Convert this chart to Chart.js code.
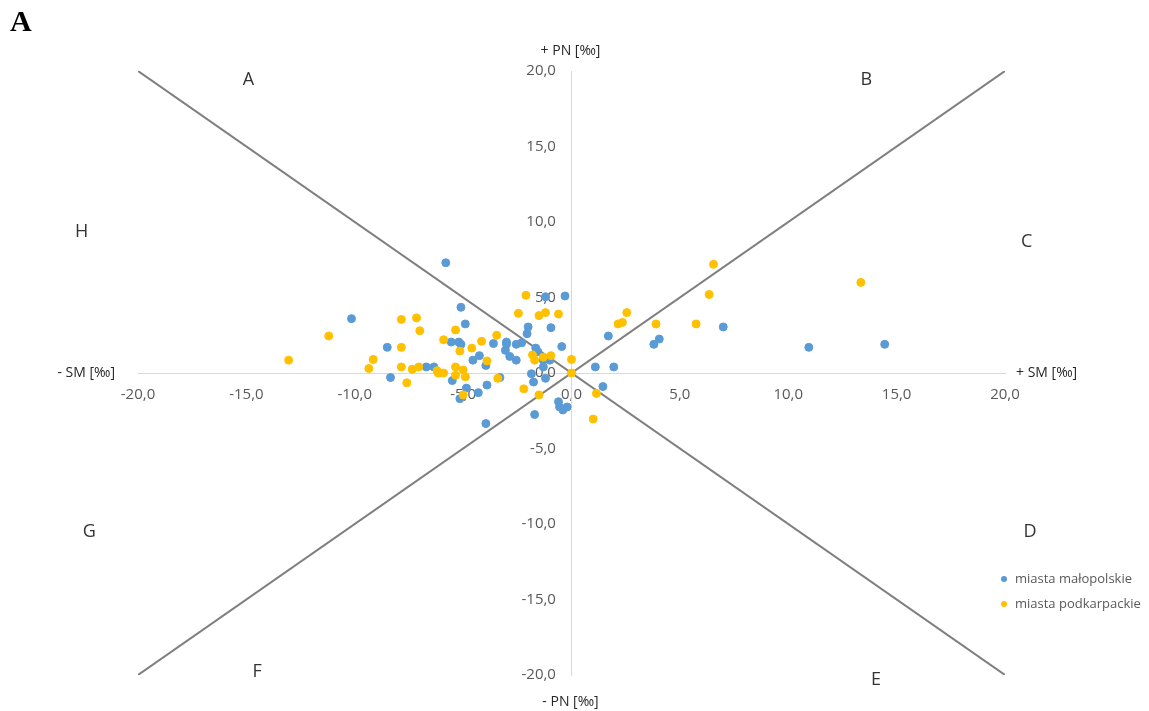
<!DOCTYPE html>
<html lang="pl">
<head>
    <meta charset="UTF-8">
    <title>Saldo migracji i przyrost naturalny – miasta</title>
    <script src="https://cdn.jsdelivr.net/npm/chart.js"></script>
    <style>
        body {
            margin: 0;
            background: #ffffff;
        }
        #chartBox {
            width: 1149px;
            height: 711px;
        }
    </style>
</head>
<body>
<div id="chartBox">
    <canvas id="webbChart"></canvas>
</div>

<script>
    // SM = saldo migracji [‰] (x), PN = przyrost naturalny [‰] (y)
    const malopolskieSM = [-5.8, -0.3, -1.2, -5.1, -10.15, -4.9, -2.0, -0.95, -2.05, -8.5, -5.55, -5.2, -5.1, -3.6, -3.0,
        -3.0, -3.05, -2.55, -2.3, -1.65, -1.55, -0.45, -4.55, -4.25, -3.95, -2.85, -2.55, -1.3, -1.3, -1.0, -6.7, -6.35,
        -8.35, -1.85, -1.75, -1.2, -5.5, -3.3, -4.85, -4.3, -5.15, -3.9, -3.95, -1.7, -0.6, -0.55, -0.4, -0.2,
        1.7, 1.95, 1.1, 1.45, 3.8, 4.05, 7.0, 10.95, 14.45];
    const malopolskiePN = [7.3, 5.1, 5.05, 4.35, 3.6, 3.25, 3.05, 3.0, 2.6, 1.7, 2.05, 2.05, 1.9, 1.95, 2.05,
        1.9, 1.5, 1.9, 2.0, 1.65, 1.4, 1.75, 0.85, 1.15, 0.5, 1.1, 0.85, 0.85, 0.4, 0.85, 0.4, 0.4,
        -0.3, -0.05, -0.6, -0.35, -0.5, -0.3, -1.0, -1.3, -1.7, -0.8, -3.35, -2.75, -1.9, -2.25, -2.45, -2.25,
        2.45, 0.4, 0.4, -0.9, 1.9, 2.25, 3.05, 1.7, 1.9];

    const podkarpackieSM = [-13.05, -11.2, -7.85, -7.15, -7.0, -7.85, -9.15, -9.35, -7.85, -7.6, -7.35, -7.05, -6.2,
        -6.15, -5.9, -5.35, -5.9, -5.15, -5.35, -5.35, -5.0, -4.9, -5.0, -4.6, -4.15, -3.9, -3.45, -3.4, -2.45,
        -1.5, -1.2, -0.6, -2.1, -1.8, -1.7, -1.3, -0.95, 0.0, 0.0, -2.2, -1.5,
        6.55, 13.35, 6.35, 2.55, 2.15, 2.35, 3.9, 5.75, 1.15, 1.0];
    const podkarpackiePN = [0.85, 2.45, 3.55, 3.65, 2.8, 1.7, 0.9, 0.3, 0.4, -0.65, 0.25, 0.4, 0.15,
        0.0, 0.0, 2.85, 2.2, 1.45, 0.4, -0.15, 0.2, -0.25, -1.45, 1.65, 2.1, 0.8, 2.5, -0.35, 3.95,
        3.8, 4.0, 3.9, 5.15, 1.2, 0.85, 1.05, 1.15, 0.9, 0.0, -1.05, -1.45,
        7.2, 6.0, 5.2, 4.0, 3.25, 3.35, 3.25, 3.25, -1.35, -3.05];

    // boundaries of the typology sectors (diagonals through the origin)
    const diagonalA = [{x: -20, y: 20}, {x: 20, y: -20}];
    const diagonalB = [{x: -20, y: -20}, {x: 20, y: 20}];

    const sectorNames = ['A', 'B', 'C', 'D', 'E', 'F', 'G', 'H'];
    // anchors of the sector letters, in data units
    const sectorX = [-14.9, 13.6, 21.0, 21.15, 14.05, -14.5, -22.25, -22.6];
    const sectorY = [19.4, 19.4, 8.7, -10.55, -20.3, -19.8, -10.55, 9.35];

    const toPoints = (xs, ys) => xs.map((x, i) => ({x: x, y: ys[i]}));
    const fmt = v => v.toFixed(1).replace('.', ',');

    const blue = '#5b9bd5';
    const gold = '#ffc000';

    // letters, axis names, panel tag and legend
    const annotations = {
        id: 'annotations',
        afterDraw(chart) {
            const c = chart.ctx;
            const xs = chart.scales.x, ys = chart.scales.y;
            const area = chart.chartArea;
            c.save();

            c.fillStyle = '#000';
            c.font = 'bold 30px "Liberation Serif", serif';
            c.textAlign = 'left';
            c.textBaseline = 'alphabetic';
            c.fillText('A', 10, 31);

            c.fillStyle = '#333';
            c.font = '18px "Open Sans"';
            c.textAlign = 'center';
            c.textBaseline = 'middle';
            sectorNames.forEach((n, i) => {
                c.fillText(n, xs.getPixelForValue(sectorX[i]), ys.getPixelForValue(sectorY[i]));
            });

            c.font = '14px "Open Sans"';
            c.fillStyle = '#262626';
            const x0 = xs.getPixelForValue(0), y0 = ys.getPixelForValue(0);
            c.fillText('+ PN [‰]', x0 - 1, area.top - 20);
            c.fillText('- PN [‰]', x0 - 1, area.bottom + 27);
            c.textAlign = 'right';
            c.fillText('- SM [‰]', area.left - 23, y0);
            c.textAlign = 'left';
            c.fillText('+ SM [‰]', area.right + 11, y0);

            // legend
            c.font = '13px "Open Sans"';
            [0, 1].forEach(i => {
                const ds = chart.data.datasets[i];
                const ly = 579 + i * 25;
                c.beginPath();
                c.arc(1004, ly, 3, 0, Math.PI * 2);
                c.fillStyle = ds.backgroundColor;
                c.fill();
                c.fillStyle = '#595959';
                c.fillText(ds.label, 1015, ly);
            });
            c.restore();
        }
    };

    new Chart(document.getElementById('webbChart'), {
        type: 'scatter',
        data: {
            datasets: [
                {
                    label: 'miasta małopolskie',
                    data: toPoints(malopolskieSM, malopolskiePN),
                    backgroundColor: blue,
                    borderColor: blue,
                    pointRadius: 4,
                    order: 2
                },
                {
                    label: 'miasta podkarpackie',
                    data: toPoints(podkarpackieSM, podkarpackiePN),
                    backgroundColor: gold,
                    borderColor: gold,
                    pointRadius: 4,
                    order: 1
                },
                {
                    label: 'diag1',
                    data: diagonalA,
                    showLine: true,
                    borderColor: '#7f7f7f',
                    borderWidth: 2,
                    pointRadius: 0,
                    order: 3
                },
                {
                    label: 'diag2',
                    data: diagonalB,
                    showLine: true,
                    borderColor: '#7f7f7f',
                    borderWidth: 2,
                    pointRadius: 0,
                    order: 3
                }
            ]
        },
        options: {
            responsive: true,
            maintainAspectRatio: false,
            animation: false,
            layout: {
                padding: {left: 138, right: 144, top: 71, bottom: 36}
            },
            plugins: {
                legend: {display: false},
                tooltip: {enabled: false}
            },
            scales: {
                x: {
                    type: 'linear',
                    min: -20,
                    max: 20,
                    position: {y: 0},
                    grid: {display: false, drawTicks: false},
                    border: {color: '#d9d9d9', width: 1},
                    ticks: {
                        stepSize: 5,
                        padding: 13,
                        maxRotation: 0,
                        color: '#595959',
                        font: {family: 'Open Sans', size: 15},
                        callback: v => fmt(v)
                    }
                },
                y: {
                    type: 'linear',
                    min: -20,
                    max: 20,
                    position: {x: 0},
                    grid: {display: false, drawTicks: false},
                    border: {color: '#d9d9d9', width: 1},
                    ticks: {
                        stepSize: 5,
                        color: '#595959',
                        font: {family: 'Open Sans', size: 15},
                        // centred axis ignores padding, so keep the gap with trailing spaces
                        callback: v => fmt(v) + '\u00a0\u00a0\u00a0\u00a0'
                    }
                }
            }
        },
        plugins: [annotations]
    });
</script>
</body>
</html>
